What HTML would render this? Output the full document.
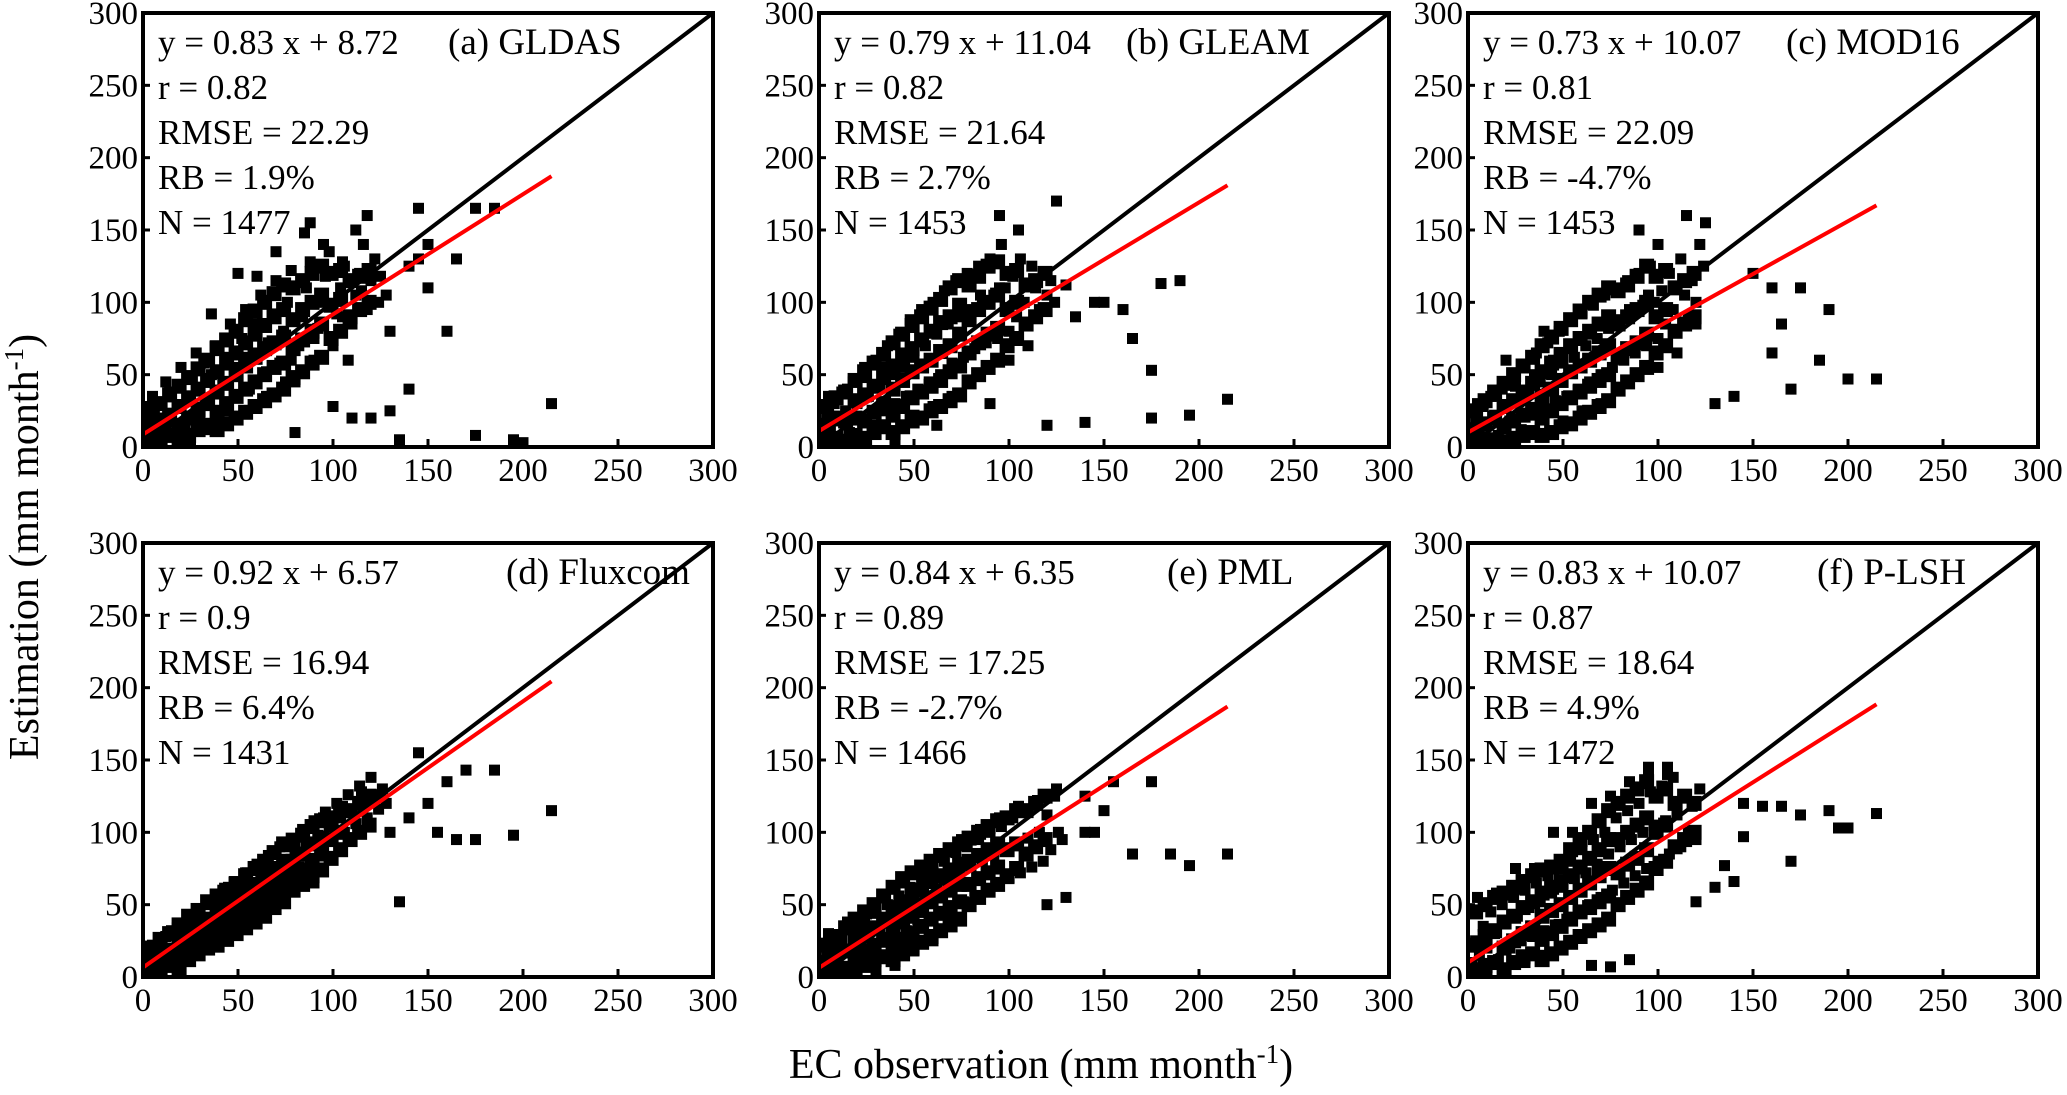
<!DOCTYPE html>
<html><head><meta charset="utf-8">
<style>
html,body{margin:0;padding:0;background:#fff;}
svg{display:block;font-family:"Liberation Serif","Times New Roman",serif;}
</style></head>
<body>
<svg id="chart" width="2067" height="1095" viewBox="0 0 2067 1095" xmlns="http://www.w3.org/2000/svg">
<text x="0" y="0" transform="translate(38,547) rotate(-90)" text-anchor="middle" font-size="42">Estimation (mm month<tspan dy="-15" font-size="27">-1</tspan><tspan dy="15">)</tspan></text>
<text x="1041" y="1078" text-anchor="middle" font-size="42">EC observation (mm month<tspan dy="-15" font-size="27">-1</tspan><tspan dy="15">)</tspan></text>
</svg>
<script>
const panelLabels=["(a) GLDAS","(b) GLEAM","(c) MOD16","(d) Fluxcom","(e) PML","(f) P-LSH"];
const fitSlopes=[0.83,0.79,0.73,0.92,0.84,0.83];
const fitIntercepts=[8.72,11.04,10.07,6.57,6.35,10.07];
const statR=["0.82","0.82","0.81","0.9","0.89","0.87"];
const statRMSE=["22.29"," 21.64"," 22.09","16.94","17.25","18.64"];
const statRB=["1.9%","2.7%","-4.7%","6.4%","-2.7%","4.9%"];
const statN=["1477","1453","1453","1431","1466","1472"];
const tickValues=[0,50,100,150,200,250,300];

const obsA=[2,4,6,3,8,10,12,14,16,18,20,22,24,26,28,30,32,34,36,38,40,42,44,46,48,50,52,54,56,58,60,62,64,66,68,70,72,74,76,78,80,82,84,86,88,90,92,94,96,98,100,102,104,106,108,110,112,114,116,118,120,122,124,10,15,25,35,45,55,65,75,5,12,20,28,36,50,60,70,85,95,8,18,30,40,55,65,78,90,105,115,150,145,140,160,185,175,145,215,140,200,195,175,135,130,120,110,100,80,118,112,88,150,165,130,125,128,105];
const estA=[5,15,25,28,10,30,20,38,8,28,42,15,35,48,22,40,58,30,50,70,20,45,62,85,35,55,75,95,40,65,85,105,50,72,92,115,58,80,100,122,45,70,90,110,128,60,82,100,118,135,70,92,110,125,60,85,105,120,140,95,115,130,100,5,18,5,12,25,25,35,45,35,45,55,65,92,120,118,135,148,140,20,12,18,38,62,52,60,75,90,108,110,130,125,80,165,165,165,30,40,3,5,8,5,25,20,20,28,10,160,150,155,140,130,80,118,105,128];

const obsB=[2,4,6,8,10,12,14,16,18,20,22,24,26,28,30,32,34,36,38,40,42,44,46,48,50,52,54,56,58,60,62,64,66,68,70,72,74,76,78,80,82,84,86,88,90,92,94,96,98,100,102,104,106,108,110,112,114,116,118,120,122,124,5,15,25,35,45,55,65,75,85,95,10,20,30,50,60,70,80,100,110,18,40,62,90,150,160,175,190,215,195,175,180,140,120,165,145,125,130,135,105,95];
const estB=[8,20,12,30,18,38,25,10,45,30,20,55,35,15,60,42,25,70,50,30,78,55,35,88,62,40,95,70,45,100,78,50,108,85,58,115,90,62,120,95,68,125,100,72,130,105,75,140,110,80,118,90,130,100,85,125,110,95,120,105,115,100,35,40,48,55,65,75,85,95,105,110,5,8,12,22,28,35,45,60,70,2,5,15,30,100,95,53,115,33,22,20,113,17,15,75,100,170,112,90,150,160];

const obsC=[2,4,6,8,10,12,14,16,18,20,22,24,26,28,30,32,34,36,38,40,42,44,46,48,50,52,54,56,58,60,62,64,66,68,70,72,74,76,78,80,82,84,86,88,90,92,94,96,98,100,102,104,106,108,110,112,114,116,118,120,122,124,5,15,25,35,45,55,65,75,85,95,10,20,30,50,60,70,80,100,110,20,40,90,115,150,160,175,165,200,215,190,185,170,140,130,160,125,120,100];
const estC=[6,18,10,28,15,35,22,8,40,28,18,50,32,12,55,38,22,65,45,28,72,50,32,80,58,35,88,62,40,92,70,45,98,75,50,105,82,55,110,88,60,115,92,65,120,98,70,125,100,75,108,85,120,95,80,130,105,90,115,100,140,125,30,35,42,50,60,68,78,88,95,105,3,5,10,18,25,30,40,55,65,60,80,150,160,120,110,110,85,47,47,95,60,40,35,30,65,155,85,140];

const obsD=[2,4,6,8,10,12,14,16,18,20,22,24,26,28,30,32,34,36,38,40,42,44,46,48,50,52,54,56,58,60,62,64,66,68,70,72,74,76,78,80,82,84,86,88,90,92,94,96,98,100,102,104,106,108,110,112,114,116,118,120,122,124,126,128,5,15,25,35,45,55,65,75,85,95,105,115,10,30,50,70,90,145,170,185,215,195,175,165,155,150,135,160,140,130,125];
const estD=[6,16,10,22,14,28,20,12,34,24,18,40,30,22,46,36,28,52,42,34,60,48,40,66,56,46,72,62,52,78,68,58,84,74,64,90,80,70,96,86,76,102,92,82,108,98,88,114,104,94,120,110,100,126,116,106,132,120,110,138,126,116,130,120,22,32,42,50,62,72,80,90,100,110,118,128,2,15,30,50,65,155,143,143,115,98,95,95,100,120,52,135,110,100,125];

const obsE=[2,4,6,8,10,12,14,16,18,20,22,24,26,28,30,32,34,36,38,40,42,44,46,48,50,52,54,56,58,60,62,64,66,68,70,72,74,76,78,80,82,84,86,88,90,92,94,96,98,100,102,104,106,108,110,112,114,116,118,120,122,124,126,128,5,15,25,35,45,55,65,75,85,95,105,115,30,40,50,60,70,140,155,165,175,185,195,215,150,140,130,120,145,125];
const estE=[4,14,8,20,12,26,18,6,32,22,14,38,28,18,44,34,24,50,40,28,56,44,32,62,50,36,68,56,40,74,60,44,80,66,48,86,70,52,90,76,56,95,80,60,100,84,64,104,88,68,110,92,72,115,96,76,120,100,80,112,88,125,100,95,30,38,45,55,65,70,85,95,102,110,118,122,5,8,18,25,40,125,135,85,135,85,77,85,115,100,55,50,100,130];

const obsF=[2,4,6,8,10,12,14,16,18,20,22,24,26,28,30,32,34,36,38,40,42,44,46,48,50,52,54,56,58,60,62,64,66,68,70,72,74,76,78,80,82,84,86,88,90,92,94,96,98,100,102,104,106,108,110,112,114,116,118,120,122,5,15,25,35,45,55,65,75,85,95,105,10,20,30,40,145,155,165,175,190,195,200,215,170,145,135,140,130,120,85,75,65,95,105];
const estF=[10,25,15,35,20,45,30,12,50,38,20,55,42,25,60,48,28,65,52,32,70,58,36,75,62,40,80,68,45,88,72,50,95,78,55,100,85,60,110,90,65,115,95,70,120,100,75,128,105,80,132,108,85,138,112,90,125,100,118,95,130,55,58,75,75,100,100,120,125,135,145,140,2,5,10,15,120,118,118,112,115,103,103,113,80,97,77,66,62,52,12,7,8,140,145];

/* dense-core observations shared by all panels, with per-panel estimates */
const coreObs=[4,4,4,9,9,9,14,14,14,19,19,19,19,24,24,24,24,29,29,29,29,34,34,34,34,39,39,39,39,39,44,44,44,44,44,49,49,49,49,49,54,54,54,54,54,59,59,59,59,59,64,64,64,64,64,69,69,69,69,69,74,74,74,74,74,79,79,79,79,84,84,84,84,89,89,89,89,94,94,94,94,99,99,99,104,104,104,109,109,114,114,119,119];
const coreEstA=[3,12,22,5,17,30,8,22,36,4,15,28,42,8,20,34,48,12,26,40,54,15,30,46,60,12,24,38,52,68,16,30,44,58,74,20,35,50,65,80,24,40,56,72,88,28,45,62,78,94,32,50,68,84,100,36,55,72,90,106,40,58,76,95,112,48,68,88,110,52,74,95,115,58,80,100,120,62,85,105,125,75,98,120,80,102,122,90,115,95,118,100,122];
const coreEstB=[5,15,28,6,20,34,4,18,38,8,20,32,46,6,18,36,52,10,24,42,58,14,30,48,64,10,22,40,56,72,14,28,46,62,78,18,34,52,68,84,20,38,56,74,90,25,42,60,80,96,28,46,66,86,102,32,52,70,90,110,36,56,78,98,115,45,65,88,112,50,72,95,118,55,78,100,125,60,82,105,128,70,95,120,75,100,122,85,112,90,115,95,120];
const coreEstC=[2,12,25,4,16,32,5,20,38,3,14,28,44,6,18,32,50,8,22,38,56,10,26,44,62,8,20,35,52,70,10,25,40,58,76,14,30,46,64,82,16,34,52,70,88,20,38,56,75,94,24,42,60,80,100,28,46,65,85,105,32,50,70,90,110,40,62,85,108,45,68,90,112,50,72,95,118,55,78,100,125,65,90,118,70,95,122,80,110,85,115,90,120];
const coreEstD=[2,10,20,4,14,26,8,18,30,6,16,26,36,12,22,32,42,16,26,36,46,20,30,40,52,22,30,38,46,56,26,34,42,50,60,30,38,46,55,64,34,42,50,60,70,38,46,55,64,75,42,52,60,70,80,48,56,65,75,86,52,60,70,80,92,60,70,80,92,64,74,85,98,70,80,92,104,74,85,96,108,82,95,110,88,100,115,95,115,100,120,105,125];
const coreEstE=[2,10,22,4,14,28,6,18,34,4,14,26,40,8,18,30,45,12,22,34,50,14,26,40,56,12,22,34,48,62,16,26,38,52,68,20,30,42,56,72,24,35,46,60,76,28,40,52,66,80,32,44,56,70,84,36,48,60,74,88,40,52,64,78,92,50,64,80,96,55,68,84,100,60,72,88,104,64,76,92,108,70,88,110,75,92,115,85,115,90,120,95,125];
const coreEstF=[5,22,45,8,28,50,10,32,55,5,20,38,58,10,25,42,62,14,30,48,66,16,34,52,70,12,26,42,58,74,16,30,46,62,76,20,35,50,66,80,24,40,55,70,88,28,45,60,76,95,32,48,65,82,100,36,52,70,88,108,40,56,75,95,115,50,72,95,120,55,78,100,125,60,82,105,130,65,88,110,135,75,100,125,80,105,130,90,120,95,125,100,120];

const obsSets=[obsA,obsB,obsC,obsD,obsE,obsF];
const estSets=[estA,estB,estC,estD,estE,estF];
const coreEstSets=[coreEstA,coreEstB,coreEstC,coreEstD,coreEstE,coreEstF];

const NS="http://www.w3.org/2000/svg";
const svg=document.getElementById('chart');
const colLefts=[143,819,1468], rowTops=[13,543], PW=570, PH=434;
function mk(tag,attrs,parent){const e=document.createElementNS(NS,tag);for(const k in attrs)e.setAttribute(k,attrs[k]);(parent||svg).appendChild(e);return e;}
const labelOffsets=[305,307,318,363,348,349];
const MS=11, CORE_MS=15;

for(let p=0;p<6;p++){
  const L=colLefts[p%3], T=rowTops[Math.floor(p/3)];
  const sx=v=>L+v/300*PW, sy=v=>T+PH-v/300*PH;
  const g=mk('g',{});
  
  
  const defs=mk('clipPath',{id:'clip'+p},g);
  mk('rect',{x:L,y:T,width:PW,height:PH},defs);
  const pts=mk('g',{'clip-path':'url(#clip'+p+')'},g);
  
  
  const ox=obsSets[p], oy=estSets[p];
  for(let i=0;i<ox.length;i++){
    const r=mk('rect',{x:sx(ox[i])-MS/2,y:sy(oy[i])-MS/2,width:MS,height:MS,fill:'#000'},pts);
    
    
  }
  const ce=coreEstSets[p];
  for(let i=0;i<coreObs.length;i++){
    const r=mk('rect',{x:sx(coreObs[i])-CORE_MS/2,y:sy(ce[i])-CORE_MS/2,width:CORE_MS,height:CORE_MS,fill:'#000'},pts);
    
    
  }
  const one=mk('line',{x1:sx(0),y1:sy(0),x2:sx(300),y2:sy(300),stroke:'#000','stroke-width':4},g);
  
  
  const fit=mk('line',{x1:sx(0),y1:sy(fitIntercepts[p]),x2:sx(215),y2:sy(fitIntercepts[p]+fitSlopes[p]*215),stroke:'#f00','stroke-width':4},g);
  
  
  const fr=mk('rect',{x:L,y:T,width:PW,height:PH,fill:'none',stroke:'#000','stroke-width':4},g);
  
  
  tickValues.forEach(v=>{
    mk('line',{x1:sx(v),y1:T+PH,x2:sx(v),y2:T+PH-8,stroke:'#000','stroke-width':3},g);
    mk('line',{x1:L,y1:sy(v),x2:L+7,y2:sy(v),stroke:'#000','stroke-width':3},g);
    const xt=mk('text',{x:sx(v),y:T+PH+34,'text-anchor':'middle','font-size':33},g);
    xt.textContent=v;
    
    
    const yt=mk('text',{x:L-5,y:sy(v)+11,'text-anchor':'end','font-size':33},g);
    yt.textContent=v;
    
    
  });
  const lines=['y = '+fitSlopes[p]+' x + '+fitIntercepts[p],'r = '+statR[p],'RMSE = '+statRMSE[p],'RB = '+statRB[p],'N = '+statN[p]];
  lines.forEach((s,i)=>{
    const t=mk('text',{x:L+15,y:T+41+i*45,'font-size':35,'xml:space':'preserve'},g);
    t.textContent=s;
    
    
  });
  const lab=mk('text',{x:L+labelOffsets[p],y:T+41,'font-size':37},g);
  lab.textContent=panelLabels[p];
  
  
}
</script>
</body></html>
